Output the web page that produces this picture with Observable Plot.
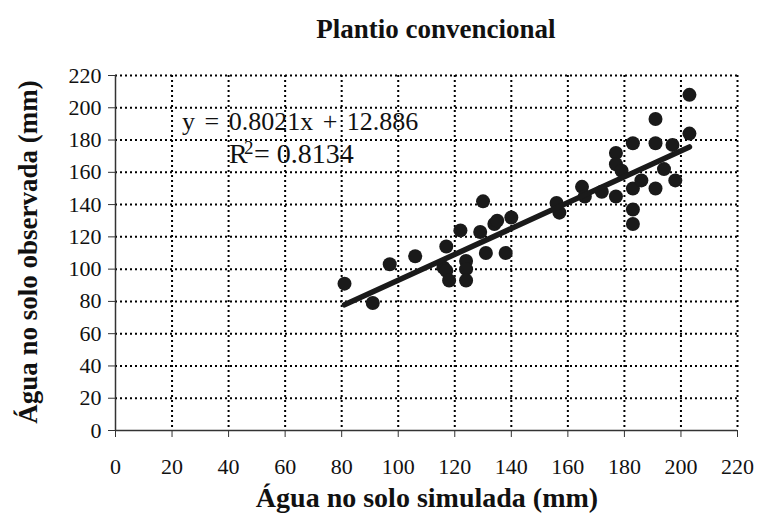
<!DOCTYPE html>
<html>
<head>
<meta charset="utf-8">
<script src="https://cdn.jsdelivr.net/npm/d3@7"></script>
<script src="https://cdn.jsdelivr.net/npm/@observablehq/plot@0.6"></script>
<style>
  body { margin: 0; background: #fff; }
  svg { display: block; }
</style>
</head>
<body>
<div id="chart"></div>
<script>
// ---- data ----
const simulada = [81, 91, 97, 106, 116, 117, 117, 118, 122, 124, 124, 124, 129, 130, 131, 134, 135, 138, 140,
  156, 157, 165, 166, 172, 177, 177, 177, 179, 183, 183, 183, 183, 186, 191, 191, 191, 194, 197, 198, 203, 203];
const observada = [91, 79, 103, 108, 101, 114, 99, 93, 124, 105, 100, 93, 123, 142, 110, 128, 130, 110, 132,
  141, 135, 151, 145, 148, 172, 165, 145, 161, 178, 150, 137, 128, 155, 193, 178, 150, 162, 177, 155, 208, 184];
const tickValues = [0, 20, 40, 60, 80, 100, 120, 140, 160, 180, 200, 220];
const title = "Plantio convencional";
const xLabel = "Água no solo simulada (mm)";
const yLabel = "Água no solo observada (mm)";
const slope = 0.8021;
const intercept = 12.886;
const equationText = "y = 0.8021x + 12.886";
const r2Text = "= 0.8134";

// ---- derived tables ----
const points = simulada.map((x, i) => ({x, y: observada[i]}));
const fit = [d3.min(simulada), d3.max(simulada)].map(x => ({x, y: slope * x + intercept}));

const serif = "Liberation Serif, Times New Roman, serif";
const dark = "#1a1a1a";

const plot = Plot.plot({
  width: 761,
  height: 520,
  marginLeft: 115,
  marginRight: 24,
  marginTop: 75,
  marginBottom: 90,
  style: {fontFamily: serif, fontSize: "22px", color: "#111", background: "#fff", overflow: "visible"},
  x: {domain: [0, 220]},
  y: {domain: [0, 220]},
  marks: [
    Plot.gridX(tickValues.slice(1), {stroke: "#000", strokeOpacity: 1, strokeWidth: 2, strokeDasharray: "2,3"}),
    Plot.gridY(tickValues.slice(1), {stroke: "#000", strokeOpacity: 1, strokeWidth: 2, strokeDasharray: "2,3"}),
    Plot.axisX(tickValues, {tickSize: 7, tickPadding: 21, label: null, stroke: "#333", fontSize: 22, fontFamily: serif}),
    Plot.axisY(tickValues, {tickSize: 7, tickPadding: 7, label: null, stroke: "#333", fontSize: 22, fontFamily: serif}),
    Plot.ruleX([0], {stroke: "#333", strokeWidth: 1.5}),
    Plot.ruleY([0], {stroke: "#333", strokeWidth: 1.5}),
    Plot.dot(points, {x: "x", y: "y", r: 7, fill: dark, stroke: "none"}),
    Plot.line(fit, {x: "x", y: "y", stroke: dark, strokeWidth: 5.5})
  ]
});

const svg = d3.select(plot);
function addText(t, size, bold) {
  return svg.append("text")
    .attr("font-family", serif)
    .attr("font-weight", bold ? "bold" : "normal")
    .attr("font-size", size)
    .attr("fill", "#111")
    .text(t);
}
addText(title, 27, true).attr("x", 436).attr("y", 38).attr("text-anchor", "middle");
addText(xLabel, 28, true).attr("x", 427).attr("y", 507).attr("text-anchor", "middle");
addText(yLabel, 27, true).attr("transform", "translate(37,252) rotate(-90)").attr("text-anchor", "middle");
addText(equationText, 26, false).attr("x", 182).attr("y", 130).attr("text-anchor", "start")
  .style("word-spacing", "3px");
const r2 = svg.append("text")
  .attr("font-family", serif).attr("font-size", 28).attr("fill", "#111").attr("text-anchor", "start");
r2.append("tspan").attr("x", 229).attr("y", 163).text("R");
r2.append("tspan").attr("x", 244).attr("y", 154).attr("font-size", 19).text("2");
r2.append("tspan").attr("x", 254).attr("y", 163).text(r2Text);

document.getElementById("chart").appendChild(plot);
</script>
</body>
</html>
